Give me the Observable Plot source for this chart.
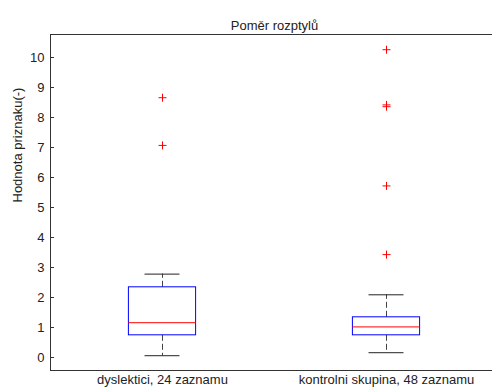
<!DOCTYPE html>
<html>
<head>
<meta charset="utf-8">
<script src="https://cdn.jsdelivr.net/npm/d3@7"></script>
<script src="https://cdn.jsdelivr.net/npm/@observablehq/plot@0.6"></script>
<style>
  body { margin: 0; background: #fff; }
  #chart svg { display: block; }
</style>
</head>
<body>
<div id="chart"></div>
<script>
// Texts
const title = "Poměr rozptylů";
const yLabel = "Hodnota priznaku(-)";
const groups = ["dyslektici, 24 zaznamu", "kontrolni skupina, 48 zaznamu"];
const positions = [1, 2];

// Box statistics per group
const whiskerLow = [0.06, 0.16];
const q1 = [0.74, 0.74];
const median = [1.16, 1.02];
const q3 = [2.34, 1.34];
const whiskerHigh = [2.78, 2.09];

// Outliers per group
const outliersDyslektici = [8.66, 7.07];
const outliersKontrolni = [10.26, 8.42, 8.36, 5.72, 3.43];

// Axis ticks and limits
const yTicks = [0, 1, 2, 3, 4, 5, 6, 7, 8, 9, 10];
const yLimits = [-0.433, 10.767];
const xLimits = [0.5, 2.5];

const boxHalf = 0.15;
const capHalf = 0.078;

const boxes = groups.map((g, i) => ({
  group: g, pos: positions[i],
  lo: whiskerLow[i], q1: q1[i], med: median[i], q3: q3[i], hi: whiskerHigh[i]
}));
const outliers = [
  ...outliersDyslektici.map(v => ({pos: positions[0], value: v})),
  ...outliersKontrolni.map(v => ({pos: positions[1], value: v}))
];

const font = "'Liberation Sans', Arial, Helvetica, sans-serif";

const chart = Plot.plot({
  width: 492,
  height: 389,
  marginLeft: 50,
  marginRight: 0,
  marginTop: 34,
  marginBottom: 19,
  style: {fontFamily: font, fontSize: "13px", color: "#222", background: "#fff"},
  x: {domain: xLimits, range: [50, 498]},
  y: {domain: yLimits},
  marks: [
    // axes frame: left, top, bottom
    Plot.ruleX([xLimits[0]], {stroke: "#333"}),
    Plot.ruleY(yLimits, {stroke: "#333"}),
    Plot.axisY({ticks: yTicks, tickSize: -4, tickPadding: 10, stroke: "#333", fontSize: 13, label: null, tickFormat: d => String(d)}),
    Plot.axisX({ticks: positions, tickSize: 0, tickPadding: 4, fontSize: 13, label: null, tickFormat: d => groups[positions.indexOf(d)]}),
    // whiskers
    Plot.ruleX(boxes, {x: "pos", y1: "q3", y2: "hi", stroke: "#444", strokeDasharray: "6,3"}),
    Plot.ruleX(boxes, {x: "pos", y1: "q1", y2: "lo", stroke: "#444", strokeDasharray: "6,3"}),
    Plot.ruleY(boxes, {y: "hi", x1: d => d.pos - capHalf, x2: d => d.pos + capHalf, stroke: "#222"}),
    Plot.ruleY(boxes, {y: "lo", x1: d => d.pos - capHalf, x2: d => d.pos + capHalf, stroke: "#222"}),
    // boxes and medians
    Plot.rect(boxes, {x1: d => d.pos - boxHalf, x2: d => d.pos + boxHalf, y1: "q1", y2: "q3", fill: "none", stroke: "#0000ff"}),
    Plot.ruleY(boxes, {y: "med", x1: d => d.pos - boxHalf, x2: d => d.pos + boxHalf, stroke: "#ff0000"}),
    // outliers
    Plot.dot(outliers, {x: "pos", y: "value", symbol: "plus", r: 2.7, stroke: "#ff0000", strokeWidth: 1}),
    // title and y label
    Plot.text([title], {frameAnchor: "top", dx: 3, dy: -14, fontSize: 13, fill: "#222"}),
    Plot.text([yLabel], {frameAnchor: "left", rotate: -90, dx: -33, fontSize: 13, fill: "#222"})
  ]
});

document.getElementById("chart").appendChild(chart);
</script>
</body>
</html>
